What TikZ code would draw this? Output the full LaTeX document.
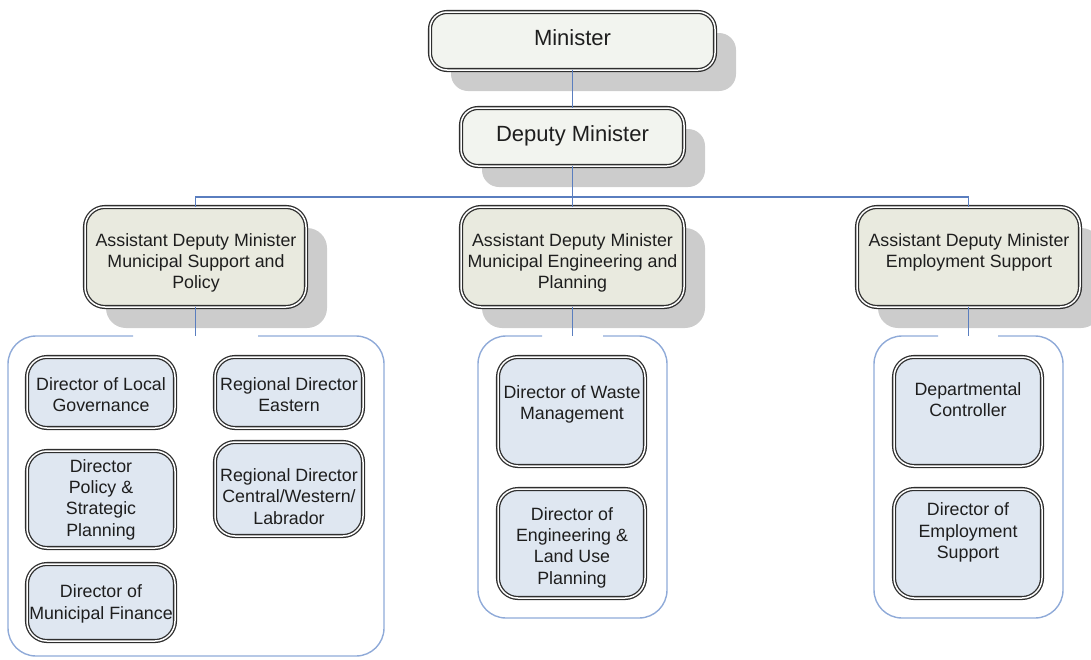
\documentclass[tikz,border=0pt]{standalone}
\usepackage{fontspec}
\setmainfont{Liberation Sans}
\usetikzlibrary{shadows}
\definecolor{shadowgray}{HTML}{CCCCCC}
\definecolor{topfill}{HTML}{F2F4EF}
\definecolor{admfill}{HTML}{E9EADF}
\definecolor{dirfill}{HTML}{DFE7F1}
\definecolor{edgeline}{HTML}{2E2E2E}
\definecolor{conncol}{HTML}{5A7EBF}
\definecolor{grpcol}{HTML}{8FAAD8}
\definecolor{txtcol}{HTML}{1E1E1E}
\begin{document}
\begin{tikzpicture}[x=1pt,y=-1pt,
  every node/.style={inner sep=0pt, outer sep=0pt},
  framebox/.style={draw=edgeline, line width=1.3pt, double=white, double distance=1.5pt, rounded corners=17pt},
  topbox/.style={framebox, fill=topfill, drop shadow={shadow xshift=21pt, shadow yshift=-21pt, fill=shadowgray, opacity=1}},
  admbox/.style={framebox, fill=admfill, rounded corners=20pt, drop shadow={shadow xshift=21pt, shadow yshift=-21pt, fill=shadowgray, opacity=1}},
  dirbox/.style={framebox, fill=dirfill, rounded corners=20pt},
  bigtxt/.style={font=\fontsize{22}{26}\selectfont, text=txtcol, anchor=base},
  txt/.style={font=\fontsize{17.8}{21.3}\selectfont, align=center, text=txtcol},
  link/.style={draw=conncol, line width=1.1pt},
  group/.style={draw=grpcol, line width=1.4pt, rounded corners=28pt}]
\useasboundingbox (0,0) rectangle (1091,659);

% top level
\node[topbox, minimum width=285pt, minimum height=58pt] (min) at (572.5,41) {};
\node[bigtxt] (mint) at (572.5,45.5) {Minister};
\node[topbox, minimum width=223pt, minimum height=58pt] (dep) at (572.5,137) {};
\node[bigtxt] (dept) at (572.5,141.5) {Deputy Minister};

% ADMs
\node[admbox, minimum width=221pt, minimum height=100pt] (adm1) at (195.5,257) {};
\node[txt] (adm1t) at (196,263) {Assistant Deputy Minister\\Municipal Support and\\Policy};
\node[admbox, minimum width=223pt, minimum height=100pt] (adm2) at (572.5,257) {};
\node[txt] (adm2t) at (572.5,263) {Assistant Deputy Minister\\Municipal Engineering and\\Planning};
\node[admbox, minimum width=223pt, minimum height=100pt] (adm3) at (968.5,257) {};
\node[txt] (adm3t) at (969,252.5) {Assistant Deputy Minister\\Employment Support};

% groups
\coordinate (g1top) at (196,336);
\coordinate (g2top) at (572.5,336);
\coordinate (g3top) at (968.5,336);
\draw[group] (133,336) -- (8,336) -- (8,656) -- (384,656) -- (384,336) -- (258,336);
\draw[group] (542,336) -- (478,336) -- (478,618) -- (667,618) -- (667,336) -- (603,336);
\draw[group] (938,336) -- (874,336) -- (874,618) -- (1063,618) -- (1063,336) -- (998,336);

% directors group 1
\node[dirbox, minimum width=148pt, minimum height=71pt] (d1) at (101,392.5) {};
\node[txt] (d1t) at (101,394.5) {Director of Local\\Governance};
\node[dirbox, minimum width=148pt, minimum height=97pt] (d2) at (101,499.5) {};
\node[txt] (d2t) at (101,499.5) {Director\\Policy \&\\Strategic\\Planning};
\node[dirbox, minimum width=148pt, minimum height=77pt] (d3) at (101,602.5) {};
\node[txt] (d3t) at (101,604) {Director of\\Municipal Finance};
\node[dirbox, minimum width=148pt, minimum height=71pt] (r1) at (289,392.5) {};
\node[txt] (r1t) at (289,394.5) {Regional Director\\Eastern};
\node[dirbox, minimum width=148pt, minimum height=94pt] (r2) at (289,489) {};
\node[txt] (r2t) at (289,496.5) {Regional Director\\Central/Western/\\Labrador};

% directors group 2
\node[dirbox, minimum width=147pt, minimum height=109pt] (w1) at (571.5,411.5) {};
\node[txt] (w1t) at (572,404.5) {Director of Waste\\Management};
\node[dirbox, minimum width=147pt, minimum height=109pt] (w2) at (571.5,543.5) {};
\node[txt] (w2t) at (572,547.5) {Director of\\Engineering \&\\Land Use\\Planning};

% directors group 3
\node[dirbox, minimum width=148pt, minimum height=109pt] (e1) at (968,411.5) {};
\node[txt] (e1t) at (968,399.5) {Departmental\\Controller};
\node[dirbox, minimum width=148pt, minimum height=109pt] (e2) at (968,543.5) {};
\node[txt] (e2t) at (968,532.5) {Director of\\Employment\\Support};

% connectors
\coordinate (bus) at (572.5,197);
\draw[link] (min.south) -- (dep.north);
\draw[link] (dep.south) -- (adm2.north);
\draw[link] (adm1.north) -- (adm1.north |- bus) -- (adm3.north |- bus) -- (adm3.north);
\draw[link] (adm1.south) -- (adm1.south |- g1top);
\draw[link] (adm2.south) -- (g2top);
\draw[link] (adm3.south) -- (g3top);
\end{tikzpicture}
\end{document}
